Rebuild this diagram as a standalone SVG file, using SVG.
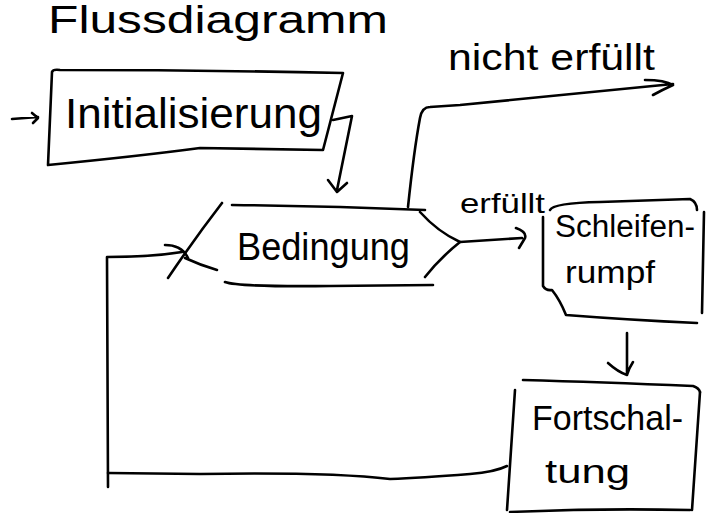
<svg xmlns="http://www.w3.org/2000/svg" width="709" height="513" viewBox="0 0 709 513">
<style>
.s{fill:none;stroke:#000;stroke-width:2.6;stroke-linecap:round;stroke-linejoin:round}
.t{font-family:"Liberation Sans","DejaVu Sans",sans-serif;fill:#000}
</style>
<rect width="709" height="513" fill="#fff"/>
<text class="t" x="48" y="33" font-size="38" textLength="340" lengthAdjust="spacingAndGlyphs">Flussdiagramm</text>
<g id="init">
<path class="s" d="M52,72 Q53,69 60,70 Q200,70 343,73 L323,150 Q270,149 200,148 Q140,156 48,165 L52,72"/>
<text class="t" x="65" y="128" font-size="42" textLength="257" lengthAdjust="spacingAndGlyphs">Initialisierung</text>
</g>
<g id="cond">
<path class="s" d="M232,205 Q330,206 425,210"/>
<path class="s" d="M420,212 Q438,232 460,242 Q440,258 425,277"/>
<path class="s" d="M225,282 Q238,287 330,286 L433,285"/>
<path class="s" d="M222,203 Q195,238 168,278"/>
<path class="s" d="M185,258 Q200,265 217,270"/>
<text class="t" x="237" y="260" font-size="38" textLength="173" lengthAdjust="spacingAndGlyphs">Bedingung</text>
</g>
<g id="body">
<path class="s" d="M550,210 Q553,203 600,202 L690,199 Q697,202 697,210"/>
<path class="s" d="M543,217 L543,286 Q546,291 552,290 Q560,300 566,315 Q630,320 697,323"/>
<path class="s" d="M704,212 Q703,260 702,313"/>
<text class="t" x="555" y="237" font-size="31" textLength="140" lengthAdjust="spacingAndGlyphs">Schleifen-</text>
<text class="t" x="565" y="283" font-size="31" textLength="90" lengthAdjust="spacingAndGlyphs">rumpf</text>
</g>
<g id="step">
<path class="s" d="M523,380 Q600,382 693,386 Q699,388 700,392"/>
<path class="s" d="M515,390 L507,510"/>
<path class="s" d="M700,392 L692,510"/>
<path class="s" d="M510,512 Q600,508 690,510"/>
<text class="t" x="532" y="430" font-size="35" textLength="151" lengthAdjust="spacingAndGlyphs">Fortschal-</text>
<text class="t" x="545" y="483" font-size="34" textLength="85" lengthAdjust="spacingAndGlyphs">tung</text>
</g>
<g id="connectors">
<path class="s" d="M12,119 L38,117 M32,113 L38,118 L33,123"/>
<path class="s" d="M333,120 L352,116 L337,190 M328,180 L337,192 L347,183"/>
<path class="s" d="M408,207 Q414,150 420,118 Q422,107 430,107 L460,105 Q560,95 673,84 M645,80 Q665,80 673,85 Q662,90 653,95"/>
<path class="s" d="M460,242 L522,238 M516,228 Q527,232 525,238 L519,248"/>
<path class="s" d="M627,333 L627,375 M608,363 Q618,372 627,375 Q629,368 633,362"/>
<path class="s" d="M507,466 Q495,472 470,474 Q420,478 390,479 Q330,472 200,474 L108,473"/>
<path class="s" d="M108,487 L107,257 Q150,257 182,252 M165,245 Q182,245 188,258"/>
</g>
<g id="labels">
<text class="t" x="448" y="70" font-size="36" textLength="207" lengthAdjust="spacingAndGlyphs">nicht erfüllt</text>
<text class="t" x="460" y="213" font-size="28" textLength="85" lengthAdjust="spacingAndGlyphs">erfüllt</text>
</g>
</svg>
